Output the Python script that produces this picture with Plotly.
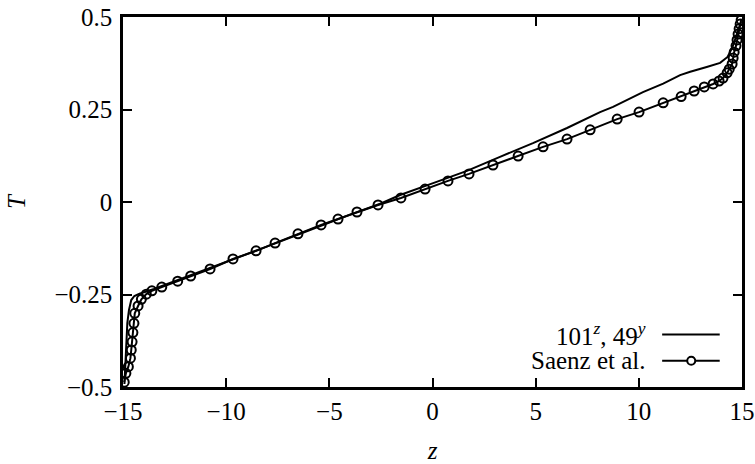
import plotly.graph_objects as go

# Numerical solution (101^z, 49^y)
z_num = [-14.93, -14.89, -14.84, -14.79, -14.71, -14.60, -14.45, -14.2, -13.5, -12.0,
         -10.0, -8.0, -6.0, -4.0, -2.5, -1.57, 0.03, 1.67, 3.27, 4.87,
         6.52, 8.12, 8.75, 10.2, 11.18, 11.68, 12.0, 12.49, 12.97, 13.29,
         13.94, 14.30, 14.55, 14.72, 14.85, 14.96]
T_num = [-0.492, -0.454, -0.381, -0.327, -0.292, -0.265, -0.254, -0.248, -0.235, -0.204,
         -0.162, -0.120, -0.077, -0.034, -0.004, 0.019, 0.051, 0.084, 0.122, 0.159,
         0.200, 0.243, 0.257, 0.297, 0.320, 0.334, 0.343, 0.352, 0.361, 0.365,
         0.376, 0.392, 0.420, 0.447, 0.473, 0.488]

# Saenz et al. reference data
z_ref = [-14.94, -14.86, -14.74, -14.64, -14.60, -14.56, -14.52, -14.47, -14.43, -14.27,
         -14.11, -13.87, -13.60, -13.12, -12.35, -11.72, -10.78, -9.67, -8.55, -7.63,
         -6.52, -5.40, -4.58, -3.66, -2.64, -1.53, -0.36, 0.75, 1.77, 2.93,
         4.15, 5.36, 6.52, 7.64, 8.95, 10.01, 11.18, 12.05, 12.68, 13.17,
         13.60, 13.89, 14.08, 14.28, 14.38, 14.52, 14.57, 14.62, 14.71, 14.76,
         14.81, 14.86, 14.91, 14.96]
T_ref = [-0.487, -0.463, -0.445, -0.422, -0.400, -0.378, -0.353, -0.328, -0.301, -0.281,
         -0.263, -0.249, -0.240, -0.230, -0.214, -0.200, -0.181, -0.154, -0.132, -0.111,
         -0.086, -0.062, -0.046, -0.027, -0.008, 0.011, 0.035, 0.057, 0.076, 0.100,
         0.124, 0.149, 0.170, 0.195, 0.224, 0.243, 0.268, 0.285, 0.300, 0.311,
         0.319, 0.327, 0.335, 0.349, 0.359, 0.373, 0.389, 0.405, 0.422, 0.438,
         0.454, 0.468, 0.481, 0.492]

x_ticks = [-15, -10, -5, 0, 5, 10, 15]
y_ticks = [-0.5, -0.25, 0, 0.25, 0.5]
y_ticktext = ["\u22120.5", "\u22120.25", "0", "0.25", "0.5"]
x_ticktext = ["\u221215", "\u221210", "\u22125", "0", "5", "10", "15"]

FONT = "Liberation Serif"
FS = 25

fig = go.Figure()
fig.add_trace(go.Scatter(x=z_num, y=T_num, mode="lines",
                         line=dict(color="black", width=2), showlegend=False))
fig.add_trace(go.Scatter(x=z_ref, y=T_ref, mode="lines+markers",
                         line=dict(color="black", width=2),
                         marker=dict(symbol="circle-open", size=9, color="black",
                                     line=dict(width=2, color="black")),
                         showlegend=False))

# Legend (text on left, sample on right, like the reference)
leg_rows = [("101<sup><i>z</i></sup>, 49<sup><i>y</i></sup>", 0.142, False),
            ("Saenz et al.", 0.071, True)]
for txt, yy, mk in leg_rows:
    fig.add_annotation(x=0.848, y=yy, xref="paper", yref="paper", text=txt,
                       showarrow=False, xanchor="right", yanchor="middle",
                       font=dict(family=FONT, size=FS, color="black"))
    fig.add_shape(type="line", xref="paper", yref="paper", x0=0.871, x1=0.964,
                  y0=yy, y1=yy, line=dict(color="black", width=2))
    if mk:
        fig.add_shape(type="circle", xref="paper", yref="paper",
                      x0=0.918 - 0.0065, x1=0.918 + 0.0065,
                      y0=yy - 0.011, y1=yy + 0.011,
                      fillcolor="white", line=dict(color="black", width=2))

fig.update_layout(
    width=755, height=464,
    margin=dict(l=123, r=13, t=17, b=77, autoexpand=False),
    paper_bgcolor="white", plot_bgcolor="white",
    font=dict(family=FONT, size=FS, color="black"),
    showlegend=False,
)
fig.update_xaxes(range=[-15, 15], tickvals=x_ticks, ticktext=x_ticktext,
                 ticks="inside", ticklen=9, tickwidth=2, tickcolor="black",
                 showline=True, linewidth=2.5, linecolor="black", mirror="ticks",
                 showgrid=False, zeroline=False, automargin=False,
                 title=dict(text="<i>z</i>", standoff=24, font=dict(size=FS)),
                 tickfont=dict(size=FS))
fig.update_yaxes(range=[-0.5, 0.5], tickvals=y_ticks, ticktext=y_ticktext,
                 ticks="inside", ticklen=9, tickwidth=2, tickcolor="black",
                 showline=True, linewidth=2.5, linecolor="black", mirror="ticks",
                 showgrid=False, zeroline=False, automargin=False,
                 ticklabelstandoff=3,
                 title=dict(text="<i>T</i>", standoff=22, font=dict(size=FS)),
                 tickfont=dict(size=FS))

fig.write_html("out.html")
